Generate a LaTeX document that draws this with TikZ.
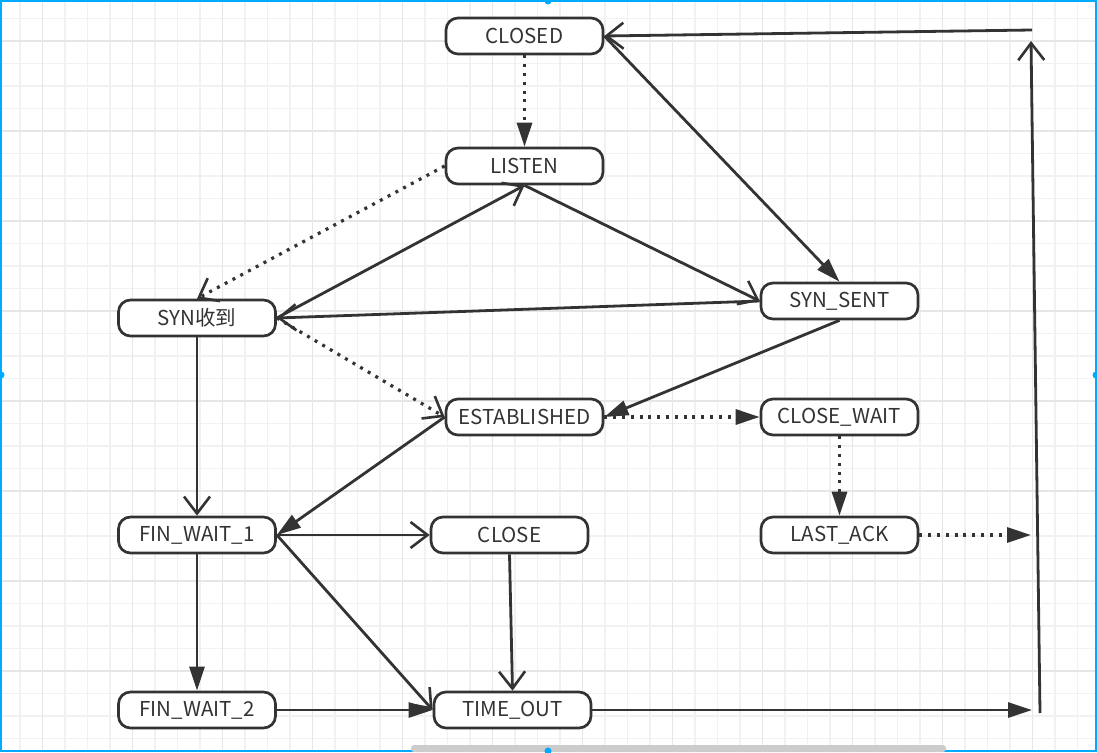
\documentclass[tikz,border=0pt]{standalone}
\usepackage{fontspec}
\setmainfont{Noto Sans CJK SC}
\usetikzlibrary{arrows.meta}
\definecolor{ink}{HTML}{333333}
\definecolor{gridminor}{HTML}{F1F1F1}
\definecolor{gridmajor}{HTML}{E6E6E6}
\definecolor{frameblue}{HTML}{00AAFF}
\definecolor{bargray}{HTML}{CCCCCC}
\tikzset{
	state/.style = {draw = ink, line width = 2.7pt, rounded corners = 12pt, fill = white,
		minimum width = 157pt, minimum height = 36pt, inner sep = 0pt, text = ink,
		font = \fontsize{20.5}{24}\selectfont},
	link/.style = {draw = ink, line width = 2.8pt},
	dots/.style = {link, line width = 3.2pt, dash pattern = on 3pt off 5.8pt},
	barb/.style = {-{Straight Barb[length = 17pt, width = 26pt, line width = 2.6pt]}},
	solidtip/.style = {-{Triangle[length = 24pt, width = 15pt]}}
}
\begin{document}
\begin{tikzpicture} [x = 1pt, y = -1pt]
	\useasboundingbox (0,0) rectangle (1097,752);
	%grid
	\foreach \k in {0,...,47} {
		\pgfmathsetmacro\gx{20+22.5*\k}
		\draw [gridminor, line width = 1.8pt] (\gx,0) -- (\gx,752);
	}
	\foreach \k in {0,...,32} {
		\pgfmathsetmacro\gy{18.5+22.5*\k}
		\draw [gridminor, line width = 1.8pt] (0,\gy) -- (1097,\gy);
	}
	\foreach \k in {1,5,...,45} {
		\pgfmathsetmacro\gx{20+22.5*\k}
		\draw [gridmajor, line width = 1.8pt] (\gx,0) -- (\gx,752);
	}
	\foreach \k in {1,5,...,29} {
		\pgfmathsetmacro\gy{18.5+22.5*\k}
		\draw [gridmajor, line width = 1.8pt] (0,\gy) -- (1097,\gy);
	}
	%frame
	\draw [frameblue, line width = 2pt] (1,1) rectangle (1096,751);
	\fill [bargray, rounded corners = 3pt] (411,745) rectangle (946,752);
	\fill [frameblue] (548,1) circle (3.5);
	\fill [frameblue] (1,375) circle (3.5);
	\fill [frameblue] (1096,375) circle (3.5);
	\fill [frameblue] (548,751) circle (3.5);
	%states
	\draw (524.5,36) node [state] (closed) {CLOSED};
	\draw (524.5,166) node [state] (listen) {LISTEN};
	\draw (197,318) node [state] (synrcvd) {SYN收到};
	\draw (839.5,301) node [state] (synsent) {SYN\_SENT};
	\draw (524.5,417) node [state] (established) {ESTABLISHED};
	\draw (839.5,417) node [state] (closewait) {CLOSE\_WAIT};
	\draw (197,535) node [state] (finwait1) {FIN\_WAIT\_1};
	\draw (509.5,535) node [state] (close) {CLOSE};
	\draw (839.5,535) node [state] (lastack) {LAST\_ACK};
	\draw (197,710) node [state] (finwait2) {FIN\_WAIT\_2};
	\draw (512.5,710) node [state] (timeout) {TIME\_OUT};
	%loose ends on the right
	\coordinate (backtop) at (1032,30);
	\coordinate (uptop) at (1031,41);
	\coordinate (upbottom) at (1040,713);
	\coordinate (ackend) at (1031,535);
	\coordinate (outend) at (1032,710);
	%transitions
	\draw [dots, solidtip] (closed) -- (listen);
	\draw [link, barb] (backtop) -- (closed.east);
	\draw [link, solidtip] (closed.east) -- (synsent.north);
	\draw [dots, barb] (listen.west) -- (synrcvd.north);
	\draw [link, barb] (synrcvd.east) -- (listen.south);
	\draw [link, barb] (listen.south) -- (synsent.west);
	\draw [link, barb] (synsent.west) -- (synrcvd.east);
	\draw [dots, barb] (synrcvd.east) -- (established.west);
	\draw [link, solidtip] (synsent.south) -- (established.east);
	\draw [dots, solidtip] (established) -- (closewait);
	\draw [dots, solidtip] (closewait) -- (lastack);
	\draw [dots, solidtip] (lastack) -- (ackend);
	\draw [link, solidtip] (established.west) -- (finwait1.east);
	\draw [link, barb] (synrcvd) -- (finwait1);
	\draw [link, barb] (finwait1) -- (close);
	\draw [link, barb] (finwait1.east) -- (timeout.west);
	\draw [link, solidtip] (finwait1) -- (finwait2);
	\draw [link, barb] (close.south) -- (timeout.north);
	\draw [link, solidtip] (finwait2) -- (timeout);
	\draw [link, solidtip] (timeout) -- (outend);
	\draw [link, barb] (upbottom) -- (uptop); %back to CLOSED
\end{tikzpicture}
\end{document}
